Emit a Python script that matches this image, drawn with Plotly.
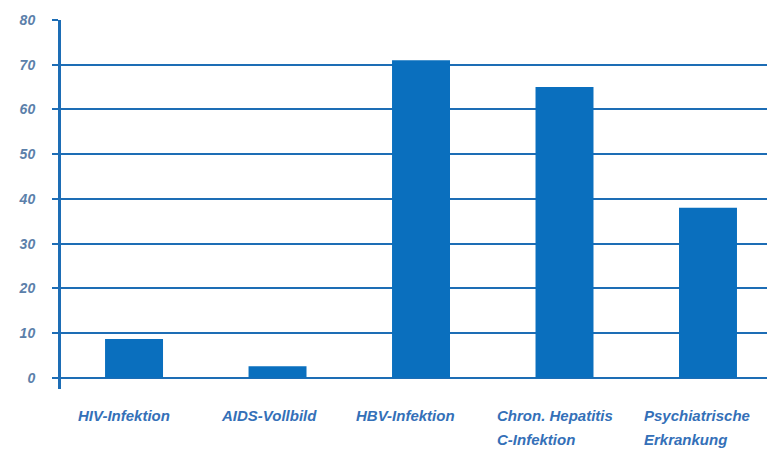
import plotly.graph_objects as go

categories = ["HIV-Infektion", "AIDS-Vollbild", "HBV-Infektion",
              "Chron. Hepatitis\nC-Infektion", "Psychiatrische\nErkrankung"]
values = [8.7, 2.6, 71, 65, 38]
y_ticks = [0, 10, 20, 30, 40, 50, 60, 70, 80]

keys = [c.replace("\n", " ") for c in categories]
blue = "#0a6fbe"
line_blue = "#1d6db5"

fig = go.Figure()
fig.add_trace(go.Bar(x=keys, y=values, marker=dict(color=blue, line=dict(width=0)),
                     width=0.404))

label_shift = [-58, -59, -67, -70, -66]
anns = []
for k, c, s in zip(keys, categories, label_shift):
    for i, ln in enumerate(c.split("\n")):
        anns.append(dict(x=k, xref="x", y=0, yref="paper", yanchor="middle",
                         yshift=-26 - 24 * i, xanchor="left", xshift=s,
                         text=ln, showarrow=False,
                         font=dict(family="Liberation Sans", size=15,
                                   color="#3470b8", weight="bold",
                                   style="italic")))

# page body has an 8px margin, so the figure is 8px smaller than the window
fig.update_layout(
    width=767, height=441,
    margin=dict(l=53, r=0, t=12, b=60),
    paper_bgcolor="white", plot_bgcolor="white",
    showlegend=False,
    annotations=anns,
    xaxis=dict(range=[-0.509, 4.467], showticklabels=False, showgrid=False,
               zeroline=False, showline=False, ticks=""),
    yaxis=dict(range=[-2.5, 80], tickvals=y_ticks, showgrid=True,
               gridcolor=line_blue, gridwidth=2, zeroline=True,
               zerolinecolor=line_blue, zerolinewidth=2,
               showline=True, linecolor=line_blue, linewidth=3,
               ticks="outside", ticklen=6, tickwidth=2, tickcolor=line_blue,
               ticklabelstandoff=14,
               tickfont=dict(family="Liberation Sans", size=14, color="#5b80aa",
                             weight="bold", style="italic")),
)

fig.write_html("out.html")
